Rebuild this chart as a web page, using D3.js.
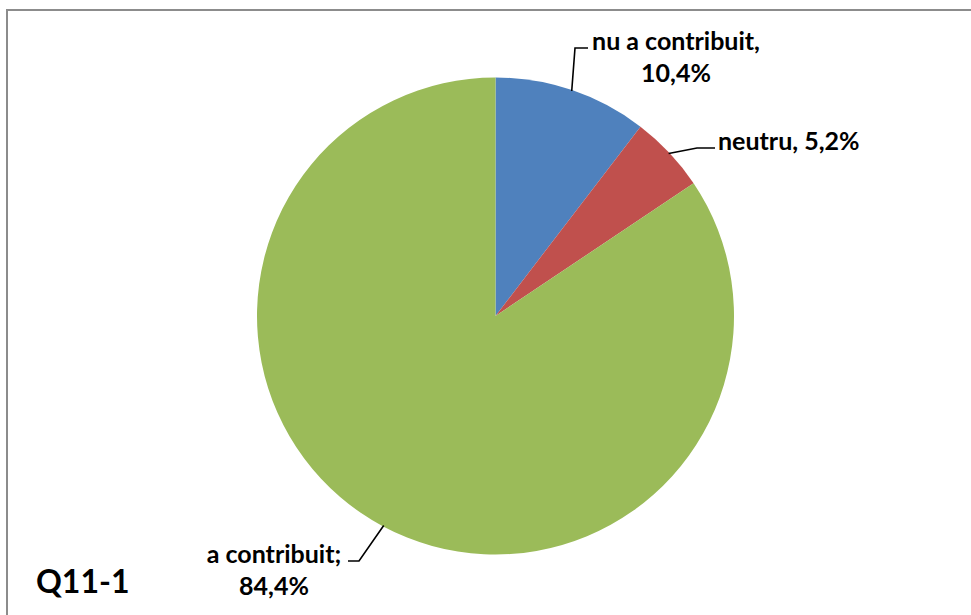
<!DOCTYPE html>
<html><head><meta charset="utf-8">
<script src="https://cdn.jsdelivr.net/npm/d3@7"></script>
<style>body{margin:0;background:#fff}svg{display:block}</style>
</head><body>
<svg id="c" width="971" height="615"></svg>
<script>
const categories = ["nu a contribuit", "neutru", "a contribuit"];
const values = [10.4, 5.2, 84.4];
const labelTexts = [["nu a contribuit,", "10,4%"], ["neutru, 5,2%"], ["a contribuit;", "84,4%"]];
const colors = ["#4F81BD", "#C0504D", "#9BBB59"];
const title = "Q11-1";

const svg = d3.select("#c");
const W = 971, H = 615;
svg.append("rect").attr("x", 7).attr("y", 10).attr("width", W).attr("height", H)
  .attr("fill", "#fff").attr("stroke", "#8c8c8c").attr("stroke-width", 2);

const cx = 495.5, cy = 316, r = 238.5;
const pie = d3.pie().sort(null).value(d => d)(values);
const arc = d3.arc().innerRadius(0).outerRadius(r);
const color = d3.scaleOrdinal().domain(categories).range(colors);
const g = svg.append("g").attr("transform", `translate(${cx},${cy})`);
g.selectAll("path").data(pie).join("path")
  .attr("d", arc).attr("fill", (d, i) => color(categories[i]));

const font = "Lato, 'Open Sans', sans-serif";
const leaders = [
  {pts: [[575, 48], [588, 48]], anchor: "middle", tx: 676, ty: [50, 82]},
  {pts: [[697, 148], [715, 148]], anchor: "start", tx: 718, ty: [150]},
  {pts: [[359, 561], [348, 561]], anchor: "middle", tx: 274, ty: [563, 595]}
];
pie.forEach((d, i) => {
  const L = leaders[i];
  const a = (d.startAngle + d.endAngle) / 2;
  const p0 = [cx + (r - 1) * Math.sin(a), cy - (r - 1) * Math.cos(a)];
  svg.append("path").attr("d", d3.line()([p0, ...L.pts])).attr("fill", "none")
    .attr("stroke", "#000").attr("stroke-width", 1.6);
  const t = svg.append("text").attr("font-family", font).attr("font-weight", 700)
    .attr("font-size", 25).attr("fill", "#000").attr("text-anchor", L.anchor);
  labelTexts[i].forEach((s, k) => {
    t.append("tspan").attr("x", L.tx).attr("y", L.ty[k]).text(s);
  });
});

svg.append("text").attr("x", 36).attr("y", 593).attr("font-family", font)
  .attr("font-weight", 700).attr("font-size", 32).text(title);
</script>
</body></html>
